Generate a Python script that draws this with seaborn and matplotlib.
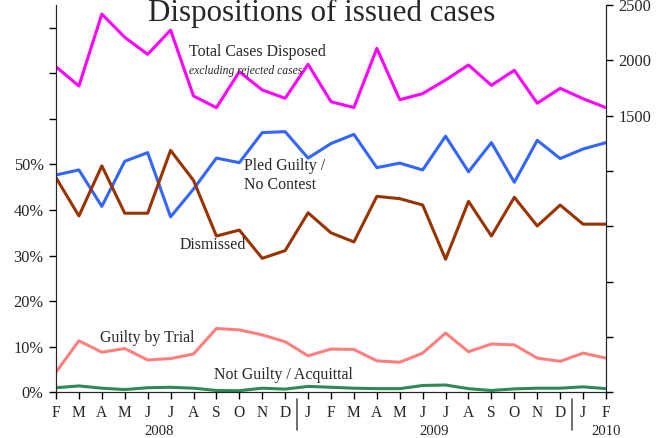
import numpy as np
import pandas as pd
import matplotlib
matplotlib.use("Agg")
import matplotlib.pyplot as plt
import seaborn as sns

# months Feb 2008 .. Feb 2010
months = ["F", "M", "A", "M", "J", "J", "A", "S", "O", "N", "D",
          "J", "F", "M", "A", "M", "J", "J", "A", "S", "O", "N", "D",
          "J", "F"]

total_disposed = [1942, 1768, 2418, 2208, 2054, 2273, 1678, 1572, 1897, 1732, 1657,
                  1964, 1626, 1573, 2108, 1644, 1699, 1822, 1958, 1774, 1910, 1612, 1747,
                  1653, 1572]
pled_guilty = [47.7, 48.8, 40.8, 50.7, 52.6, 38.5, 44.6, 51.4, 50.4, 57.0, 57.2,
               51.4, 54.6, 56.6, 49.3, 50.3, 48.8, 56.2, 48.4, 54.8, 46.1, 55.3, 51.3,
               53.4, 54.8]
dismissed = [47.1, 38.7, 49.7, 39.3, 39.3, 53.1, 46.5, 34.3, 35.6, 29.4, 31.1,
             39.4, 35.0, 33.0, 43.0, 42.5, 41.1, 29.2, 41.9, 34.3, 42.8, 36.5, 41.1,
             36.9, 36.9]
guilty_trial = [4.4, 11.3, 8.8, 9.6, 7.1, 7.4, 8.4, 14.0, 13.7, 12.6, 11.1,
                8.0, 9.5, 9.4, 6.9, 6.6, 8.6, 13.0, 8.9, 10.6, 10.4, 7.5, 6.8,
                8.6, 7.5]
not_guilty = [1.0, 1.4, 0.9, 0.6, 1.0, 1.1, 0.9, 0.4, 0.35, 0.9, 0.7,
              1.3, 1.1, 0.9, 0.8, 0.8, 1.5, 1.6, 0.8, 0.4, 0.75, 0.9, 0.9,
              1.2, 0.8]

years = ["2008", "2009", "2010"]

x = np.arange(len(months))
df = pd.DataFrame({"x": x, "total": total_disposed, "pled": pled_guilty,
                   "dismissed": dismissed, "trial": guilty_trial, "notguilty": not_guilty})

sns.set_style("ticks")
plt.rcParams["font.family"] = ["Liberation Serif", "DejaVu Serif"]

fig = plt.figure(figsize=(6.58, 4.38), dpi=100)
ax = fig.add_axes([56/658, 1 - 392.3/438, 550/658, 387.3/438])
ax2 = ax.twinx()

lw = 2.2
sns.lineplot(data=df, x="x", y="pled", ax=ax, color="#3366ff", linewidth=lw)
sns.lineplot(data=df, x="x", y="dismissed", ax=ax, color="#993300", linewidth=lw)
sns.lineplot(data=df, x="x", y="trial", ax=ax, color="#ff7f7f", linewidth=lw)
sns.lineplot(data=df, x="x", y="notguilty", ax=ax, color="#2e8b57", linewidth=lw)
sns.lineplot(data=df, x="x", y="total", ax=ax2, color="#ff00ff", linewidth=lw)

ax.set_xlim(0, len(months) - 1)
ax.set_ylim(0, 85)
ax2.set_ylim(-1000, 2500)

ax.set_yticks([0, 10, 20, 30, 40, 50, 60, 70, 80])
ax.set_yticklabels(["0%", "10%", "20%", "30%", "40%", "50%", "", "", ""])
ax2.set_yticks([-1000, -500, 0, 500, 1000, 1500, 2000, 2500])
ax2.set_yticklabels(["", "", "", "", "", "1500", "2000", "2500"])
ax.set_xticks(x)
ax.set_xticklabels(months)
ax.set_xlabel("")
ax.set_ylabel("")
ax2.set_ylabel("")

for a in (ax, ax2):
    a.spines["top"].set_visible(False)
    a.tick_params(labelsize=11.8, length=5, width=1, color="black", pad=4)
ax.tick_params(axis="x", labelsize=11.2, pad=4)
ax2.spines["left"].set_visible(True)

# year separators and labels
trans = ax.get_xaxis_transform()
for sep in (10.5, 22.5):
    ax.plot([sep, sep], [-0.018, -0.098], transform=trans, color="#555555",
            linewidth=1.2, clip_on=False)
for xpos, yr in zip([4.5, 16.5, 24], years):
    ax.text(xpos, -0.109, yr, transform=trans, ha="center", va="baseline", fontsize=10.6)

# series labels
ax2.text(5.8, 2035, "Total Cases Disposed", fontsize=11.4, ha="left", va="baseline")
ax2.text(5.8, 1880, "excluding rejected cases", fontsize=8.4, style="italic",
         ha="left", va="baseline")
ax.text(8.2, 47.5, "Pled Guilty /\nNo Contest", fontsize=11.4, ha="left", va="center",
        linespacing=1.25)
ax.text(5.4, 32.3, "Dismissed", fontsize=11.4, ha="left", va="center")
ax.text(1.9, 11.9, "Guilty by Trial", fontsize=11.4, ha="left", va="center")
ax.text(6.9, 3.8, "Not Guilty / Acquittal", fontsize=11.4, ha="left", va="center")

fig.text(322/658, 1 - 21/438, "Dispositions of issued cases", fontsize=22.3,
         ha="center", va="baseline")

fig.savefig("out.png", dpi=100)
